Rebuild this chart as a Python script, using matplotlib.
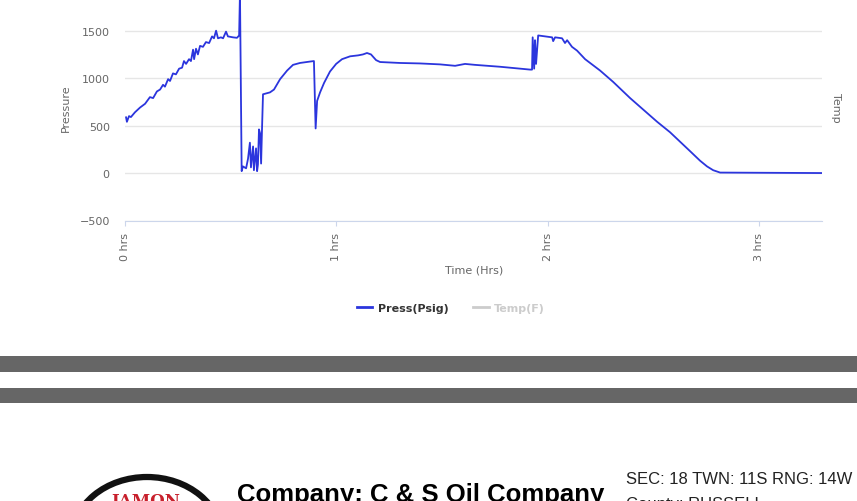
import matplotlib
matplotlib.use('Agg')
import matplotlib.pyplot as plt
from matplotlib.lines import Line2D
from matplotlib.patches import Rectangle, Ellipse

# pressure trace (hours, psig)
time_hrs = [0.005, 0.009, 0.019, 0.028, 0.047, 0.071, 0.095, 0.118, 0.133, 0.151,
            0.166, 0.180, 0.189, 0.204, 0.213, 0.227, 0.241, 0.256, 0.270, 0.279,
            0.289, 0.303, 0.312, 0.322, 0.327, 0.336, 0.345, 0.355, 0.369, 0.383,
            0.398, 0.412, 0.421, 0.431, 0.440, 0.454, 0.464, 0.478, 0.487, 0.511,
            0.530, 0.540, 0.544, 0.552, 0.558, 0.573, 0.582, 0.591, 0.596, 0.606,
            0.610, 0.620, 0.625, 0.629, 0.634, 0.639, 0.644, 0.648, 0.653, 0.686,
            0.705, 0.734, 0.767, 0.795, 0.828, 0.876, 0.894, 0.902, 0.909, 0.923,
            0.942, 0.970, 0.999, 1.027, 1.065, 1.103, 1.126, 1.145, 1.164, 1.188,
            1.207, 1.301, 1.396, 1.491, 1.562, 1.609, 1.656, 1.775, 1.917, 1.926,
            1.929, 1.936, 1.940, 1.945, 1.955, 1.988, 2.021, 2.026, 2.035, 2.068,
            2.082, 2.092, 2.115, 2.139, 2.177, 2.248, 2.310, 2.390, 2.518, 2.579,
            2.674, 2.721, 2.754, 2.783, 2.816, 3.299]
press_psig = [587, 540, 600, 590, 640, 690, 730, 800, 790, 860,
              880, 930, 910, 990, 970, 1050, 1040, 1100, 1110, 1180,
              1150, 1200, 1180, 1300, 1200, 1310, 1250, 1340, 1330, 1380,
              1370, 1440, 1420, 1500, 1420, 1430, 1420, 1490, 1440, 1430,
              1425, 1450, 1900, 20, 70, 50, 150, 320, 60, 280,
              30, 260, 20, 90, 460, 420, 100, 440, 830, 850,
              880, 990, 1080, 1140, 1160, 1175, 1180, 470, 760, 850,
              950, 1070, 1150, 1200, 1230, 1240, 1250, 1265, 1250, 1190,
              1170, 1160, 1155, 1145, 1130, 1150, 1140, 1120, 1090, 1090,
              1430, 1100, 1400, 1150, 1450, 1440, 1430, 1390, 1430, 1420,
              1370, 1400, 1330, 1290, 1200, 1080, 960, 790, 540, 430,
              230, 130, 70, 30, 5, 0]

x_ticks = [0, 1, 2, 3]
x_tick_labels = ['0 hrs', '1 hrs', '2 hrs', '3 hrs']
y_ticks = [-500, 0, 500, 1000, 1500]
series_names = ['Press(Psig)', 'Temp(F)']

W, H = 857, 502
fig = plt.figure(figsize=(W / 100, H / 100), dpi=100)


def fx(x):
    return x / W


def fy(y):
    return 1 - y / H


ax = fig.add_axes([fx(125), fy(221.5), fx(822) - fx(125), fy(0) - fy(221.5)])
ax.plot(time_hrs, press_psig, color='#2b35dd', lw=1.3)
ax.set_xlim(0, 3.298)
ax.set_ylim(-500, 1834)
ax.set_yticks(y_ticks)
ax.set_yticklabels([str(v).replace('-', '\u2212') for v in y_ticks])
ax.set_xticks(x_ticks)
ax.set_xticklabels(x_tick_labels, rotation=90)
ax.yaxis.grid(True, color='#e6e6e6', lw=1)
ax.set_axisbelow(True)
for s in ['top', 'left', 'right']:
    ax.spines[s].set_visible(False)
ax.spines['bottom'].set_color('#ccd6eb')
ax.tick_params(axis='y', length=0, pad=11, labelsize=8, labelcolor='#666666')
ax.tick_params(axis='x', length=3.6, color='#ccd6eb', pad=4.5, labelsize=8, labelcolor='#666666')

fig.text(fx(66), fy(108), 'Pressure', rotation=90, ha='center', va='center', fontsize=8, color='#666666')
fig.text(fx(836), fy(108), 'Temp', rotation=-90, ha='center', va='center', fontsize=8, color='#666666')
fig.text(fx(474), fy(271), 'Time (Hrs)', ha='center', va='center', fontsize=8, color='#666666')

handles = [Line2D([], [], color='#2b35dd', lw=2), Line2D([], [], color='#cccccc', lw=2)]
leg = fig.legend(handles, series_names, loc='center', bbox_to_anchor=(fx(451), fy(309)),
                 ncol=2, frameon=False, prop={'size': 8, 'weight': 'bold'},
                 handlelength=1.4, handletextpad=0.5, columnspacing=2.2)
leg.get_texts()[0].set_color('#333333')
leg.get_texts()[1].set_color('#cccccc')

# grey separator bars
for top, bottom in [(357, 373), (389, 404)]:
    fig.add_artist(Rectangle((0, fy(bottom)), 1, (bottom - top) / H,
                             transform=fig.transFigure, color='#666666', lw=0))

# logo (partly cut off at the bottom edge)
fig.add_artist(Ellipse((fx(147), fy(540)), 150 / W, 124 / H, transform=fig.transFigure,
                       facecolor='white', edgecolor='#111111', lw=4.5))
fig.text(fx(146), fy(506), 'IAMON', ha='center', va='baseline', fontsize=12,
         fontweight='bold', color='#c8202c', family='DejaVu Serif')

fig.text(fx(237), fy(502), 'Company: C & S Oil Company', ha='left', va='baseline',
         fontsize=18.5, fontweight='bold', family='Liberation Sans')
fig.text(fx(626), fy(484), 'SEC: 18 TWN: 11S RNG: 14W', ha='left', va='baseline',
         fontsize=12, family='Liberation Sans', color='#222222')
fig.text(fx(626), fy(509), 'County: RUSSELL', ha='left', va='baseline',
         fontsize=12, family='Liberation Sans', color='#222222')

fig.savefig('out.png', dpi=100)
